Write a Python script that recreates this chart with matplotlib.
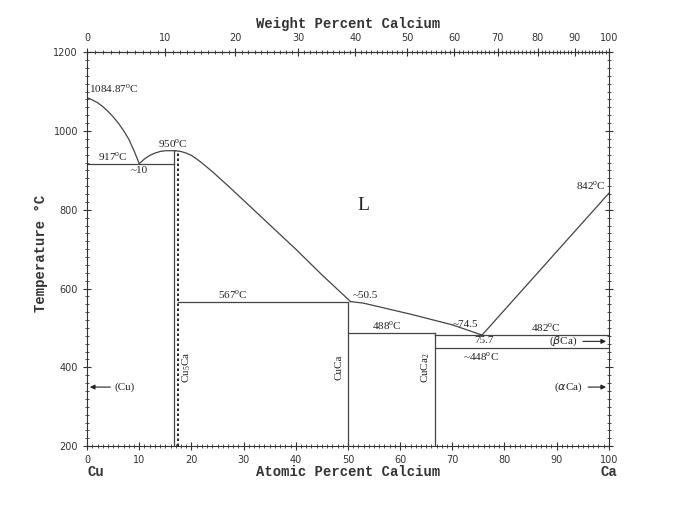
import numpy as np
import matplotlib.pyplot as plt
from matplotlib.ticker import MultipleLocator

# Cu-Ca phase diagram, atomic percent Ca vs temperature
# liquidus branches (at% Ca, deg C)
liq_cu_x = [0, 1, 2, 3, 4, 5, 6, 7, 8, 9, 10]
liq_cu_t = [1084.87, 1079, 1072, 1062, 1050, 1036, 1020, 1001, 979, 950, 917]
liq_hump_x = [10, 11, 12, 13, 14, 15, 16.9]
liq_hump_t = [917, 929, 938, 944, 948, 950, 950]
liq_mid_x = [16.9, 18, 19, 20, 21, 22, 24, 27, 30, 35, 40, 45, 50.5]
liq_mid_t = [950, 948, 944, 938, 929, 919, 897, 861, 824, 762, 700, 635, 567]
liq_low_x = [50.5, 53, 62, 70, 75.7]
liq_low_t = [567, 563, 535, 508, 482]
liq_ca_x = [75.7, 100]
liq_ca_t = [482, 842]

# horizontal invariants: (x start, x end, temperature)
h_lines = [(0, 16.7, 917), (17.5, 50, 567), (50, 66.7, 488),
           (66.7, 100, 482), (66.7, 100, 448)]
# compounds: (x, top temperature)
compounds = [(16.7, 950), (50, 567), (66.7, 488)]
cu5ca_dash_x = 17.5

M_CU, M_CA = 63.546, 40.078


def at2wt(a):
    a = np.clip(a, 0, 100)
    return 100 * a * M_CA / (a * M_CA + (100 - a) * M_CU)


def wt2at(w):
    w = np.clip(w, 0, 100)
    return 100 * (w / M_CA) / (w / M_CA + (100 - w) / M_CU)


fig = plt.figure(figsize=(6.75, 5.07), dpi=100)
ax = fig.add_axes([0.129, 0.120, 0.773, 0.777])
lc = '#444444'
lw = 0.9

for xs, ts in [(liq_cu_x, liq_cu_t), (liq_hump_x, liq_hump_t), (liq_mid_x, liq_mid_t),
               (liq_low_x, liq_low_t), (liq_ca_x, liq_ca_t)]:
    ax.plot(xs, ts, color=lc, lw=lw)
for x0, x1, t in h_lines:
    ax.plot([x0, x1], [t, t], color=lc, lw=lw)
for x, t in compounds:
    ax.plot([x, x], [200, t], color=lc, lw=lw)
ax.plot([cu5ca_dash_x, cu5ca_dash_x], [200, 950], color='black', lw=1.2, ls=(0, (1.5, 1.5)))

ax.set_xlim(0, 100)
ax.set_ylim(200, 1200)
ax.xaxis.set_major_locator(MultipleLocator(10))
ax.xaxis.set_minor_locator(MultipleLocator(1))
ax.yaxis.set_major_locator(MultipleLocator(200))
ax.yaxis.set_minor_locator(MultipleLocator(20))
ax.tick_params(which='both', direction='inout', top=False, right=True, labelsize=7, colors='#333333')
ax.tick_params(which='major', length=6)
ax.tick_params(which='minor', length=3)
for s in ax.spines.values():
    s.set_color('#333333')

sec = ax.secondary_xaxis('top', functions=(at2wt, wt2at))
sec.set_xticks(np.arange(0, 101, 10))
sec.xaxis.set_minor_locator(MultipleLocator(1))
sec.tick_params(which='both', direction='inout', labelsize=7, colors='#333333')
sec.tick_params(which='major', length=6)
sec.tick_params(which='minor', length=3)

mono = dict(family='Liberation Mono', fontsize=10, fontweight='bold', color='#333333')
fig.text(0.515, 0.952, 'Weight Percent Calcium', ha='center', va='center', **mono)
ax.text(0.5, -0.066, 'Atomic Percent Calcium', transform=ax.transAxes, ha='center', va='center', **mono)
fig.text(0.06, 0.5, 'Temperature \u00b0C', rotation=90, ha='center', va='center', **mono)
ax.text(0.0, -0.066, 'Cu', transform=ax.transAxes, ha='left', va='center', **mono)
ax.text(1.0, -0.066, 'Ca', transform=ax.transAxes, ha='center', va='center', **mono)

ser = dict(family='Liberation Serif', fontsize=8, color='#222222')
deg = r'$^{\mathregular{o}}$C'
ax.text(0.3, 1092, '1084.87' + deg, ha='left', va='bottom', **ser)
ax.text(2, 919, '917' + deg, ha='left', va='bottom', **ser)
ax.text(10, 912, '~10', ha='center', va='top', **ser)
ax.text(16.5, 952, '950' + deg, ha='center', va='bottom', **ser)
ax.text(53, 812, 'L', ha='center', va='center', family='Liberation Serif', fontsize=14, color='#222222')
ax.text(99.5, 846, '842' + deg, ha='right', va='bottom', **ser)
ax.text(28, 569, '567' + deg, ha='center', va='bottom', **ser)
ax.text(51, 572, '~50.5', ha='left', va='bottom', **ser)
ax.text(57.5, 490, '488' + deg, ha='center', va='bottom', **ser)
ax.text(72.5, 497, '~74.5', ha='center', va='bottom', **ser)
ax.text(88, 484, '482' + deg, ha='center', va='bottom', **ser)
ax.text(76, 479, '75.7', ha='center', va='top', **ser)
ax.text(75.5, 443, '~448' + deg, ha='center', va='top', **ser)
ax.text(19, 400, r'Cu$_\mathregular{5}$Ca', rotation=90, ha='center', va='center', **ser)
ax.text(48.3, 400, 'CuCa', rotation=90, ha='center', va='center', **ser)
ax.text(64.8, 400, r'CuCa$_\mathregular{2}$', rotation=90, ha='center', va='center', **ser)

arr = dict(arrowstyle='-|>', color='#222222', lw=0.8, mutation_scale=7)
ax.annotate('', xy=(0, 350), xytext=(5, 350), arrowprops=arr)
ax.text(5.3, 350, '(Cu)', ha='left', va='center', **ser)
ax.annotate('', xy=(100, 466), xytext=(94.5, 466), arrowprops=arr)
ax.text(94, 466, r'($\beta$Ca)', ha='right', va='center', **ser)
ax.annotate('', xy=(100, 350), xytext=(95.5, 350), arrowprops=arr)
ax.text(95, 350, r'($\alpha$Ca)', ha='right', va='center', **ser)

fig.savefig('out.png', dpi=100)
